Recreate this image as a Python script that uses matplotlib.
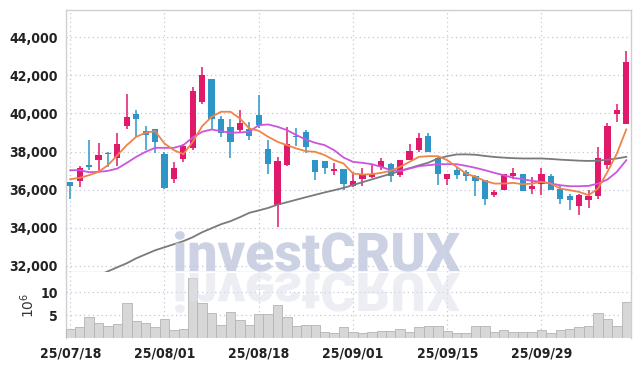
import numpy as np
import matplotlib
matplotlib.use("Agg")
import matplotlib.pyplot as plt
from matplotlib.textpath import TextPath
from matplotlib.patches import PathPatch
from matplotlib.font_manager import FontProperties
from matplotlib.transforms import Affine2D

# daily candles (KRW)
opens = [36390, 36475, 37280, 37565, 37930, 37685, 39335, 39965, 39070, 39175,
         37860, 36565, 37615, 38195, 40615, 41805, 39705, 39280, 39125, 39175,
         39915, 38125, 35215, 37280, 38810, 39020, 37545, 37495, 36965, 37070,
         36175, 36565, 36670, 37195, 37370, 36755, 37580, 38070, 38810, 37635,
         36565, 37020, 36930, 36705, 36495, 35705, 35965, 36740, 36810, 36020,
         36315, 36705, 36020, 35685, 35160, 35475, 35670, 37300, 39985, 39455]
highs = [36400, 37230, 38630, 38460, 38000, 38985, 41020, 40175, 39335, 39180,
         37965, 37460, 38385, 41405, 42420, 41810, 39860, 39685, 40175, 39560,
         40965, 38600, 37720, 39300, 39210, 39125, 37550, 37500, 37405, 37075,
         36930, 37160, 37335, 37685, 37375, 37580, 38370, 38985, 38985, 37755,
         36810, 37195, 37055, 36755, 36500, 35965, 36845, 37160, 36815, 36670,
         37140, 36845, 36230, 35790, 35790, 36000, 38245, 39510, 40475, 43300]
lows = [35480, 36140, 37055, 36985, 37195, 37265, 39160, 38775, 38105, 37930,
        36055, 36320, 37440, 38105, 40475, 39160, 38740, 37635, 38950, 38600,
        39210, 36810, 34035, 37245, 38280, 37930, 36495, 36810, 36755, 35965,
        36140, 36195, 36635, 37020, 36405, 36670, 37545, 37985, 37985, 36265,
        36265, 36580, 36460, 35650, 35175, 35615, 35965, 36580, 35930, 35790,
        35705, 35965, 35230, 34915, 34650, 35055, 35530, 37070, 39545, 39455]
closes = [36195, 37125, 37195, 37810, 37860, 38420, 39790, 39685, 38880, 38510,
          36090, 37160, 38280, 41175, 42020, 39720, 38985, 38510, 39525, 38825,
          39385, 37320, 37495, 38385, 38740, 38245, 36930, 37140, 37070, 36280,
          36440, 36810, 36810, 37495, 36720, 37580, 38035, 38685, 37985, 36810,
          36810, 36755, 36705, 36440, 35495, 35860, 36845, 36895, 35930, 36175,
          36845, 36000, 35530, 35460, 35705, 35685, 37685, 39335, 40175, 42685]

# moving averages as drawn
ma_short = [36546, 36616, 36756, 36931, 37282, 37808, 38335, 38773, 38984, 39071,
            38422, 38071, 37861, 38510, 39334, 39826, 40089, 40089, 39738, 39212,
            39089, 38773, 38510, 38335, 38159, 38019, 37984, 37808, 37545, 37370,
            36844, 36791, 36809, 36879, 36984, 37194, 37458, 37721, 37756, 37756,
            37545, 37194, 36844, 36668, 36458, 36317, 36317, 36352, 36282, 36317,
            36405, 36317, 36054, 35967, 35879, 35704, 36054, 36931, 37896, 39159]
ma_mid = [37019, 37019, 36914, 36931, 36984, 37107, 37405, 37721, 37984, 38194,
          38194, 38194, 38335, 38738, 39036, 39159, 39071, 38984, 39001, 39036,
          39387, 39422, 39299, 39124, 38861, 38633, 38457, 38335, 38071, 37686,
          37458, 37405, 37335, 37194, 37019, 36984, 37107, 37230, 37282, 37335,
          37335, 37335, 37247, 37142, 37019, 36879, 36756, 36616, 36546, 36458,
          36405, 36317, 36230, 36177, 36177, 36195, 36317, 36528, 36931, 37545]
ma_long = [np.nan, np.nan, np.nan, 31480, 31707, 31920, 32130, 32390, 32600, 32810,
           32970, 33130, 33290, 33500, 33760, 33970, 34180, 34340, 34550, 34780,
           34905, 35037, 35210, 35337, 35468, 35600, 35726, 35852, 35968, 36089,
           36236, 36389, 36536, 36683, 36830, 36978, 37125, 37272, 37415, 37630,
           37756, 37846, 37851, 37830, 37767, 37714, 37677, 37651, 37635, 37635,
           37635, 37609, 37572, 37546, 37520, 37504, 37520, 37572, 37635, 37720]

# volume, millions of shares
volume = [1.9, 2.35, 4.55, 3.2, 2.6, 3.1, 7.6, 3.75, 3.2, 2.4,
          4.1, 1.75, 2.0, 13.2, 7.6, 5.5, 2.85, 5.65, 3.95, 2.85,
          5.3, 5.3, 7.25, 4.6, 2.6, 2.85, 2.85, 1.3, 1.0, 2.35,
          1.4, 1.0, 1.3, 1.55, 1.55, 1.9, 1.3, 2.35, 2.55, 2.55,
          1.45, 1.0, 1.0, 2.55, 2.55, 1.3, 1.75, 1.3, 1.3, 1.3,
          1.65, 1.0, 1.75, 2.0, 2.35, 2.6, 5.4, 4.1, 2.6, 7.9]

tick_pos = [0, 10, 20, 30, 40, 50]
tick_labels = ["25/07/18", "25/08/01", "25/08/18", "25/09/01", "25/09/15", "25/09/29"]
price_ticks = [32000, 34000, 36000, 38000, 40000, 42000, 44000]

UP = "#e0196b"
DOWN = "#2e95c7"
GRID = "#c3c8db"
lab = FontProperties(family="DejaVu Sans", stretch="condensed", weight="bold", size=10)

W, H = 639, 366
fig = plt.figure(figsize=(W / 100, H / 100), dpi=100)
ax = fig.add_axes([66 / W, (H - 272) / H, 565 / W, 262 / H])
axv = fig.add_axes([66 / W, (H - 338) / H, 565 / W, 66 / H], sharex=ax)

x = np.arange(len(opens))
o = np.array(opens); c = np.array(closes)
cols = [UP if cc >= oo else DOWN for oo, cc in zip(o, c)]
ax.vlines(x, lows, highs, colors=cols, linewidth=1.1, zorder=3)
body = np.maximum(np.abs(c - o), 70)
ax.bar(x, body, bottom=np.minimum(o, c), width=0.66, color=cols, zorder=4)

ax.plot(x, ma_long, color="#7a7a7a", lw=1.3, zorder=5)
ax.plot(x, ma_mid, color="#cc55e0", lw=1.3, zorder=5)
ax.plot(x, ma_short, color="#ef8448", lw=1.3, zorder=6)

axv.bar(x, volume, width=1.0, color="#d7d7d7", edgecolor="#b4b4b4", linewidth=0.6, zorder=3)

ax.set_xlim(-0.45, 59.5)
ax.set_ylim(31670, 45436)
axv.set_ylim(0, 14.5)

ax.set_yticks(price_ticks)
ax.set_yticklabels([f"{v:,}" for v in price_ticks], fontproperties=lab, color="#222222")
axv.set_yticks([5, 10])
axv.set_yticklabels(["5", "10"], fontproperties=lab, color="#222222")
axv.set_ylabel(r"$10^6$", fontsize=10, color="#333333", labelpad=2)
axv.set_xticks(tick_pos)
axv.set_xticklabels(tick_labels, fontproperties=lab, color="#222222")
ax.tick_params(axis="x", labelbottom=False, length=0)
ax.tick_params(axis="y", length=0, pad=6)
axv.tick_params(length=0, pad=6)

for a in (ax, axv):
    a.set_facecolor("white")
    a.grid(True, color=GRID, linestyle=(0, (1, 2.5)), linewidth=0.9, zorder=0)
    a.set_axisbelow(True)
    for s in a.spines.values():
        s.set_color("#cfcfcf")
        s.set_linewidth(1.0)
axv.spines["bottom"].set_visible(False)
axv.spines["top"].set_visible(False)

# watermark with its reflection
fp = FontProperties(family=["Roboto", "DejaVu Sans"], weight="black")
tp = TextPath((0, 0), "investCRUX", size=100, prop=fp)
ext = tp.get_extents()
sc = 285 / ext.width
x0 = 175 - ext.x0 * sc
base = H - 271
wm = PathPatch(tp, transform=Affine2D().scale(sc, sc).translate(x0, base),
               facecolor="#c3cae0", edgecolor="none", alpha=0.85, zorder=10)
fig.patches.append(wm)
wm2 = PathPatch(tp, transform=Affine2D().scale(sc, -sc).translate(x0, base - 2),
                facecolor="#dfe1eb", edgecolor="none", alpha=0.55, zorder=10)
fig.patches.append(wm2)

fig.savefig("out.png", dpi=100)
